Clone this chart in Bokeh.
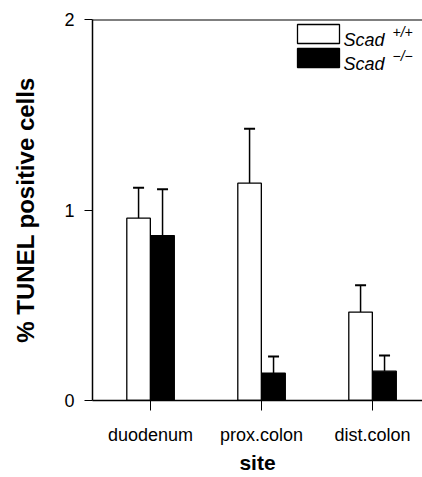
from bokeh.plotting import figure
from bokeh.models import (ColumnDataSource, Whisker, TeeHead, Range1d, FixedTicker,
                          Span)
from bokeh.core.properties import value
from bokeh.embed import file_html
from bokeh.resources import INLINE

# ---- data ----
sites = ["duodenum", "prox.colon", "dist.colon"]
site_pos = [1, 2, 3]
wt_mean = [0.957, 1.141, 0.464]
wt_err = [0.160, 0.285, 0.141]
ko_mean = [0.866, 0.143, 0.154]
ko_err = [0.243, 0.088, 0.082]
y_ticks = [0, 1, 2]

FONT = "Liberation Sans"
W, H = 422, 477
FL, FR, FT, FB = 92, 422, 19, 400
X0, X1 = 0.477, 3.45
Y0, Y1 = 0.0, 2.0

def dx(px):
    return X0 + (px - FL) * (X1 - X0) / (FR - FL)

def dy(py):
    return Y0 + (FB - py) * (Y1 - Y0) / (FB - FT)

p = figure(width=W, height=H, output_backend="svg", toolbar_location=None,
           x_range=Range1d(X0, X1), y_range=Range1d(Y0, Y1),
           min_border_left=FL, min_border_right=0, min_border_top=FT,
           min_border_bottom=H - FB)
p.outline_line_color = None
p.grid.grid_line_color = None
p.background_fill_color = "white"
p.border_fill_color = "white"

off = 0.108
bw = 0.212
wt_x = [x - off for x in site_pos]
ko_x = [x + off for x in site_pos]

src_wt = ColumnDataSource(dict(x=wt_x, top=wt_mean,
                               upper=[m + e for m, e in zip(wt_mean, wt_err)]))
src_ko = ColumnDataSource(dict(x=ko_x, top=ko_mean,
                               upper=[m + e for m, e in zip(ko_mean, ko_err)]))

for src, fill in ((src_wt, "white"), (src_ko, "black")):
    w = Whisker(source=src, base="x", lower="top", upper="upper", dimension="height",
                line_color="black", line_width=1.5, lower_head=None,
                upper_head=TeeHead(size=11, line_color="black", line_width=2))
    p.add_layout(w)
    p.vbar(x="x", top="top", bottom=0, width=bw, source=src, fill_color=fill,
           line_color="black", line_width=1.3)

# top frame line
p.add_layout(Span(location=Y1, dimension="width", line_color="black", line_width=2))

# axes
xa = p.xaxis[0]
xa.ticker = FixedTicker(ticks=site_pos)
xa.major_label_overrides = {i: s for i, s in zip(site_pos, sites)}
xa.minor_tick_line_color = None
xa.major_tick_in = 0
xa.major_tick_out = 10
xa.major_label_standoff = 14
xa.major_label_text_font = FONT
xa.major_label_text_font_size = "18px"
xa.major_label_text_color = "black"
xa.axis_label = "site"
xa.axis_label_text_font = FONT
xa.axis_label_text_font_style = "bold"
xa.axis_label_text_font_size = "21px"
xa.axis_label_standoff = 3
xa.axis_label_text_color = "black"
xa.axis_line_width = 1.5

ya = p.yaxis[0]
ya.ticker = FixedTicker(ticks=y_ticks)
ya.minor_tick_line_color = None
ya.major_tick_in = 0
ya.major_tick_out = 8
ya.major_label_standoff = 10
ya.major_label_text_font = FONT
ya.major_label_text_font_size = "18px"
ya.major_label_text_color = "black"
ya.axis_label = "% TUNEL positive cells"
ya.axis_label_text_font = FONT
ya.axis_label_text_font_style = "bold"
ya.axis_label_text_font_size = "24px"
ya.axis_label_standoff = 22
ya.axis_label_text_color = "black"
ya.axis_line_width = 1.5

# legend (drawn manually to allow superscripts)
leg_fill = ["white", "black"]
leg_top_px = [24, 48]
leg_h_px = 19
p.quad(left=[dx(297)] * 2, right=[dx(339)] * 2,
       top=[dy(t) for t in leg_top_px], bottom=[dy(t + leg_h_px) for t in leg_top_px],
       fill_color=leg_fill, line_color="black", line_width=1.3)
p.text(x=[dx(343)] * 2, y=[dy(t + 15) for t in leg_top_px], text=["Scad", "Scad"],
       text_font=value(FONT), text_font_style="italic", text_font_size="18px",
       text_baseline="alphabetic", text_color="black")
p.text(x=[dx(392)] * 2, y=[dy(t + 7) for t in leg_top_px], text=["+/+", "\u2212/\u2212"],
       text_font=value(FONT), text_font_style="italic", text_font_size="14px",
       text_baseline="alphabetic", text_color="black")

open("out.html", "w").write(file_html(p, INLINE))
